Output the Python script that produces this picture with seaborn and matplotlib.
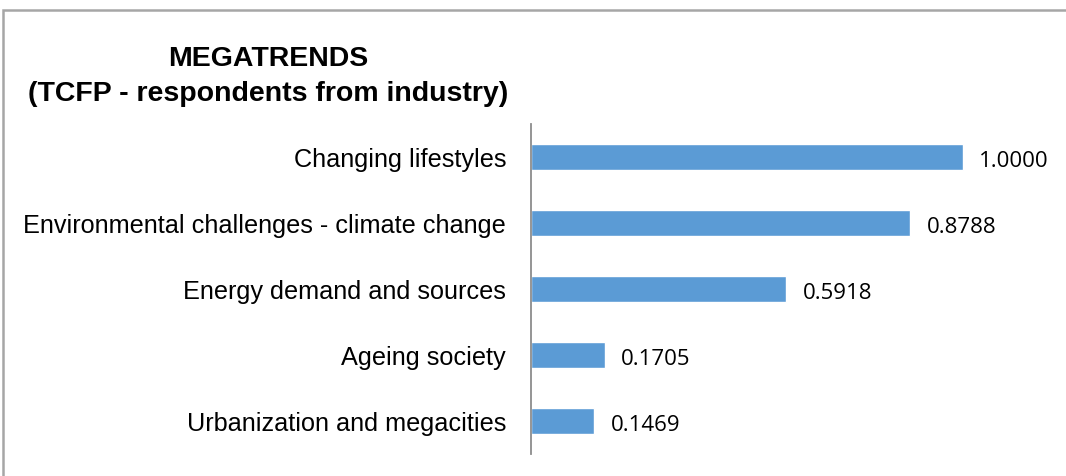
import matplotlib
matplotlib.use("Agg")
import matplotlib.pyplot as plt
from matplotlib.patches import Rectangle
import seaborn as sns
import pandas as pd

categories = [
    "Changing lifestyles",
    "Environmental challenges - climate change",
    "Energy demand and sources",
    "Ageing society",
    "Urbanization and megacities",
]
scores = [1.0000, 0.8788, 0.5918, 0.1705, 0.1469]
title_lines = ["MEGATRENDS", "(TCFP - respondents from industry)"]

df = pd.DataFrame({"trend": categories, "score": scores})

sns.set_theme(style="white")
plt.rcParams["font.family"] = ["Liberation Sans", "DejaVu Sans"]

W, H = 1066, 476
fig = plt.figure(figsize=(W / 100, H / 100), dpi=100)
ax = fig.add_axes([531 / W, 1 - 454 / H, (1049 - 531) / W, (454 - 124) / H])

sns.barplot(data=df, x="score", y="trend", orient="h", color="#5B9BD5",
            saturation=1, width=0.39, ax=ax)

ax.set_xlim(0, 1.2)
ax.set_ylim(4.5, -0.5)
ax.set_xlabel("")
ax.set_ylabel("")
ax.set_xticks([])
for side in ("top", "right", "bottom"):
    ax.spines[side].set_visible(False)
ax.spines["left"].set_color("#8c8c8c")
ax.spines["left"].set_linewidth(1.3)
ax.tick_params(axis="y", length=0, pad=18, labelsize=18.2, labelcolor="#000000")

for bar, val in zip(ax.patches, scores):
    ax.annotate(f"{val:.4f}", xy=(bar.get_width(), bar.get_y() + bar.get_height() / 2),
                xytext=(12, -3), textcoords="offset points", va="center", ha="left",
                fontsize=16, family=["Open Sans", "DejaVu Sans"], color="#000000")

# chart frame
fig.patches.append(Rectangle((3 / W, -0.05), 1.2, 1.05 - 10 / H, transform=fig.transFigure,
                             fill=False, edgecolor="#a6a6a6", linewidth=1.8, zorder=0))

fig.text(268 / W, 1 - 59 / H, title_lines[0], ha="center", va="center",
         fontsize=20.5, fontweight="bold", color="#000000")
fig.text(268 / W, 1 - 94 / H, title_lines[1], ha="center", va="center",
         fontsize=20.5, fontweight="bold", color="#000000")

fig.savefig("out.png", dpi=100, facecolor="white")
